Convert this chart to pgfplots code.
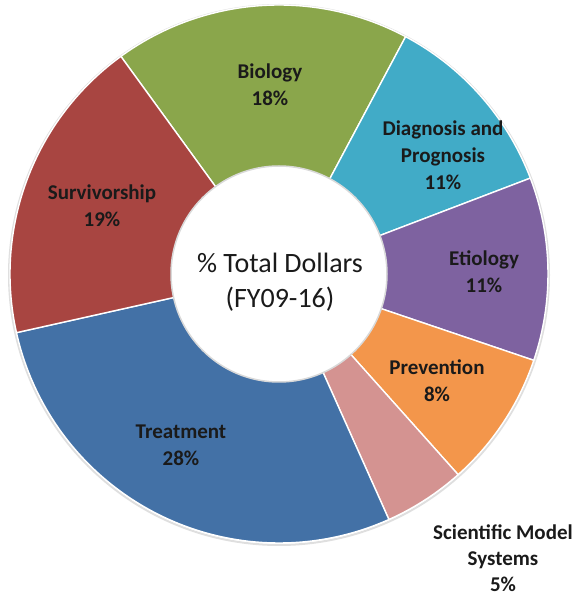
\documentclass[border=0pt]{standalone}
\usepackage{pgfplots}
\pgfplotsset{compat=1.18}
\usepackage{pgfplotstable}
\usepackage{fontspec}
\setmainfont{Carlito}

\definecolor{c0}{HTML}{8AA64B}% Biology
\definecolor{c1}{HTML}{41ABC7}% Diagnosis and Prognosis
\definecolor{c2}{HTML}{7E62A0}% Etiology
\definecolor{c3}{HTML}{F3964B}% Prevention
\definecolor{c4}{HTML}{D49391}% Scientific Model Systems
\definecolor{c5}{HTML}{4371A6}% Treatment
\definecolor{c6}{HTML}{A84541}% Survivorship
\definecolor{txt}{HTML}{1A1A1A}

% share of total dollars, clockwise from Biology
\pgfplotstableread{
share
17.8
11.4
11.0
8.2
4.9
28.2
18.5
}\slices

\begin{document}
\begin{tikzpicture}[
    lab/.style={text=txt, align=center, font=\bfseries\fontsize{21}{27}\selectfont},
]
\useasboundingbox (0,0) rectangle (576pt,598pt);
\begin{axis}[
    x=1pt, y=1pt,
    xmin=0, xmax=576, ymin=0, ymax=598,
    hide axis, clip=false, anchor=origin, at={(0,0)},
]
\def\cx{279}\def\cy{324}\def\Ro{269}\def\Ri{108}
\draw[gray!25, line width=2pt] (axis cs:\cx,\cy-1) circle[radius=270pt];
\def\ang{126}
\pgfplotsforeachungrouped \i in {0,...,6}{%
  \pgfplotstablegetelem{\i}{share}\of\slices
  \pgfmathsetmacro\aend{\ang-3.6*\pgfplotsretval}%
  \pgfmathsetmacro\xs{\cx+\Ro*cos(\ang)}%
  \pgfmathsetmacro\ys{\cy+\Ro*sin(\ang)}%
  \edef\temp{\noexpand\filldraw[fill=c\i, draw=white, line width=1.4pt]
    (axis cs:\cx,\cy) -- (axis cs:\xs,\ys)
    arc[start angle=\ang, end angle=\aend, radius=\Ro pt] -- cycle;}%
  \temp
  \let\ang\aend
}
\filldraw[fill=white, draw=gray!30, line width=1.5pt] (axis cs:\cx,\cy) circle[radius=\Ri pt];

\node[lab] at (axis cs:270,513) {Biology\\18\%};
\node[lab] at (axis cs:443,443) {Diagnosis and\\Prognosis\\11\%};
\node[lab] at (axis cs:484,326) {Etiology\\11\%};
\node[lab] at (axis cs:437,217) {Prevention\\8\%};
\node[lab, font=\bfseries\fontsize{21}{26}\selectfont] at (axis cs:503,40) {Scientific Model\\Systems\\5\%};
\node[lab] at (axis cs:181,153) {Treatment\\28\%};
\node[lab] at (axis cs:102,392) {Survivorship\\19\%};
\node[text=txt, align=center, font=\fontsize{28}{35}\selectfont] at (axis cs:280,316) {\% Total Dollars\\(FY09-16)};
\end{axis}
\end{tikzpicture}
\end{document}
